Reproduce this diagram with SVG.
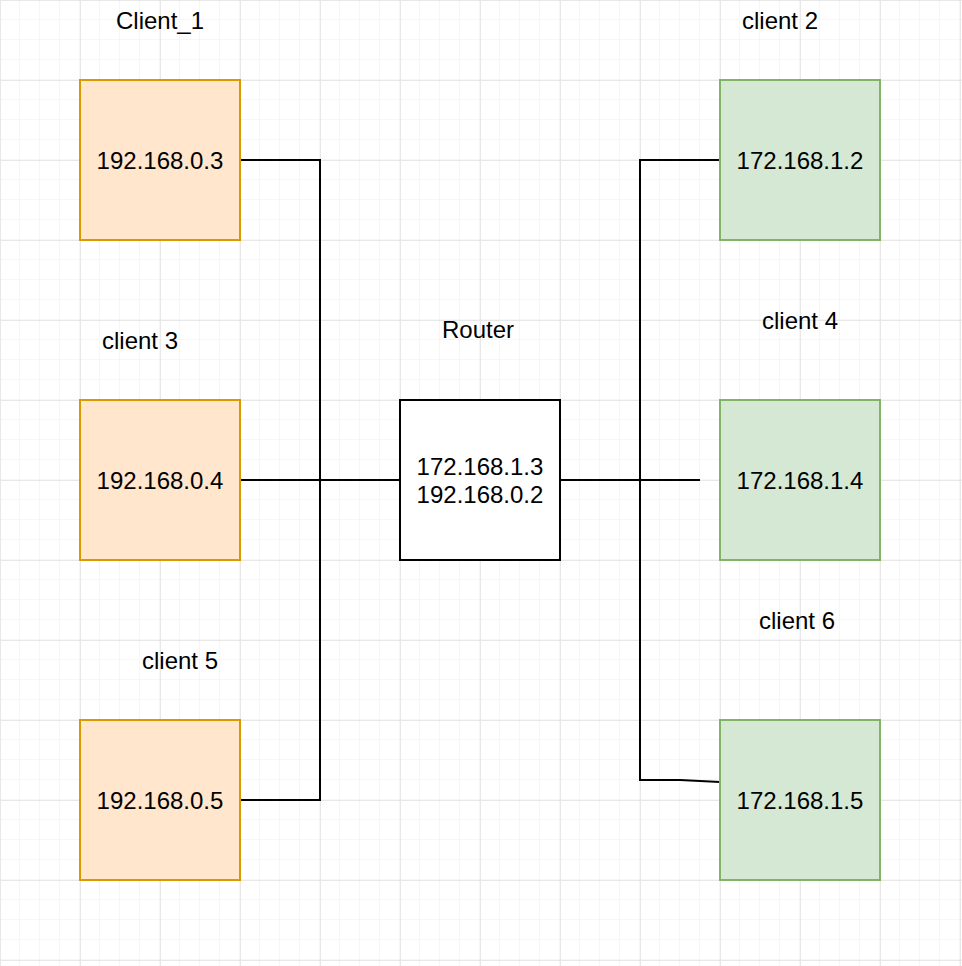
<svg xmlns="http://www.w3.org/2000/svg" width="962" height="966" viewBox="0 0 962 966">
<defs>
<pattern id="minor" width="20" height="20" patternUnits="userSpaceOnUse">
<path d="M20 0V20M0 20H20" fill="none" stroke="#f6f6f6" stroke-width="2"/>
</pattern>
<pattern id="major" width="80" height="80" patternUnits="userSpaceOnUse">
<rect width="80" height="80" fill="url(#minor)"/>
<path d="M0 0V80M0 0H80" fill="none" stroke="#e8e8e8" stroke-width="2"/>
</pattern>
<style>
text{font-family:"Liberation Sans",Arial,sans-serif;font-size:24px;fill:#000;text-anchor:middle}
.orange{fill:#ffe6cc;stroke:#d79b00;stroke-width:2}
.green{fill:#d5e8d4;stroke:#82b366;stroke-width:2}
.router{fill:#fff;stroke:#000;stroke-width:2}
.wire{fill:none;stroke:#000;stroke-width:2}
</style>
</defs>
<rect width="962" height="966" fill="#fff"/>
<rect width="962" height="966" fill="url(#major)"/>
<g id="connectors">
<path class="wire" d="M240 160H320V800H240"/>
<path class="wire" d="M240 480H400"/>
<path class="wire" d="M560 480H700"/>
<path class="wire" d="M720 160H640V780H680L720 782"/>
</g>
<g id="labels">
<text x="160" y="29">Client_1</text>
<text x="780" y="29">client 2</text>
<text x="140" y="349">client 3</text>
<text x="478" y="338">Router</text>
<text x="800" y="329">client 4</text>
<text x="180" y="669">client 5</text>
<text x="797" y="629">client 6</text>
</g>
<g id="client1"><rect class="orange" x="80" y="80" width="160" height="160"/><text x="160" y="169">192.168.0.3</text></g>
<g id="client3"><rect class="orange" x="80" y="400" width="160" height="160"/><text x="160" y="489">192.168.0.4</text></g>
<g id="client5"><rect class="orange" x="80" y="720" width="160" height="160"/><text x="160" y="809">192.168.0.5</text></g>
<g id="router"><rect class="router" x="400" y="400" width="160" height="160"/><text x="480" y="475">172.168.1.3</text><text x="480" y="503">192.168.0.2</text></g>
<g id="client2"><rect class="green" x="720" y="80" width="160" height="160"/><text x="800" y="169">172.168.1.2</text></g>
<g id="client4"><rect class="green" x="720" y="400" width="160" height="160"/><text x="800" y="489">172.168.1.4</text></g>
<g id="client6"><rect class="green" x="720" y="720" width="160" height="160"/><text x="800" y="809">172.168.1.5</text></g>
</svg>
